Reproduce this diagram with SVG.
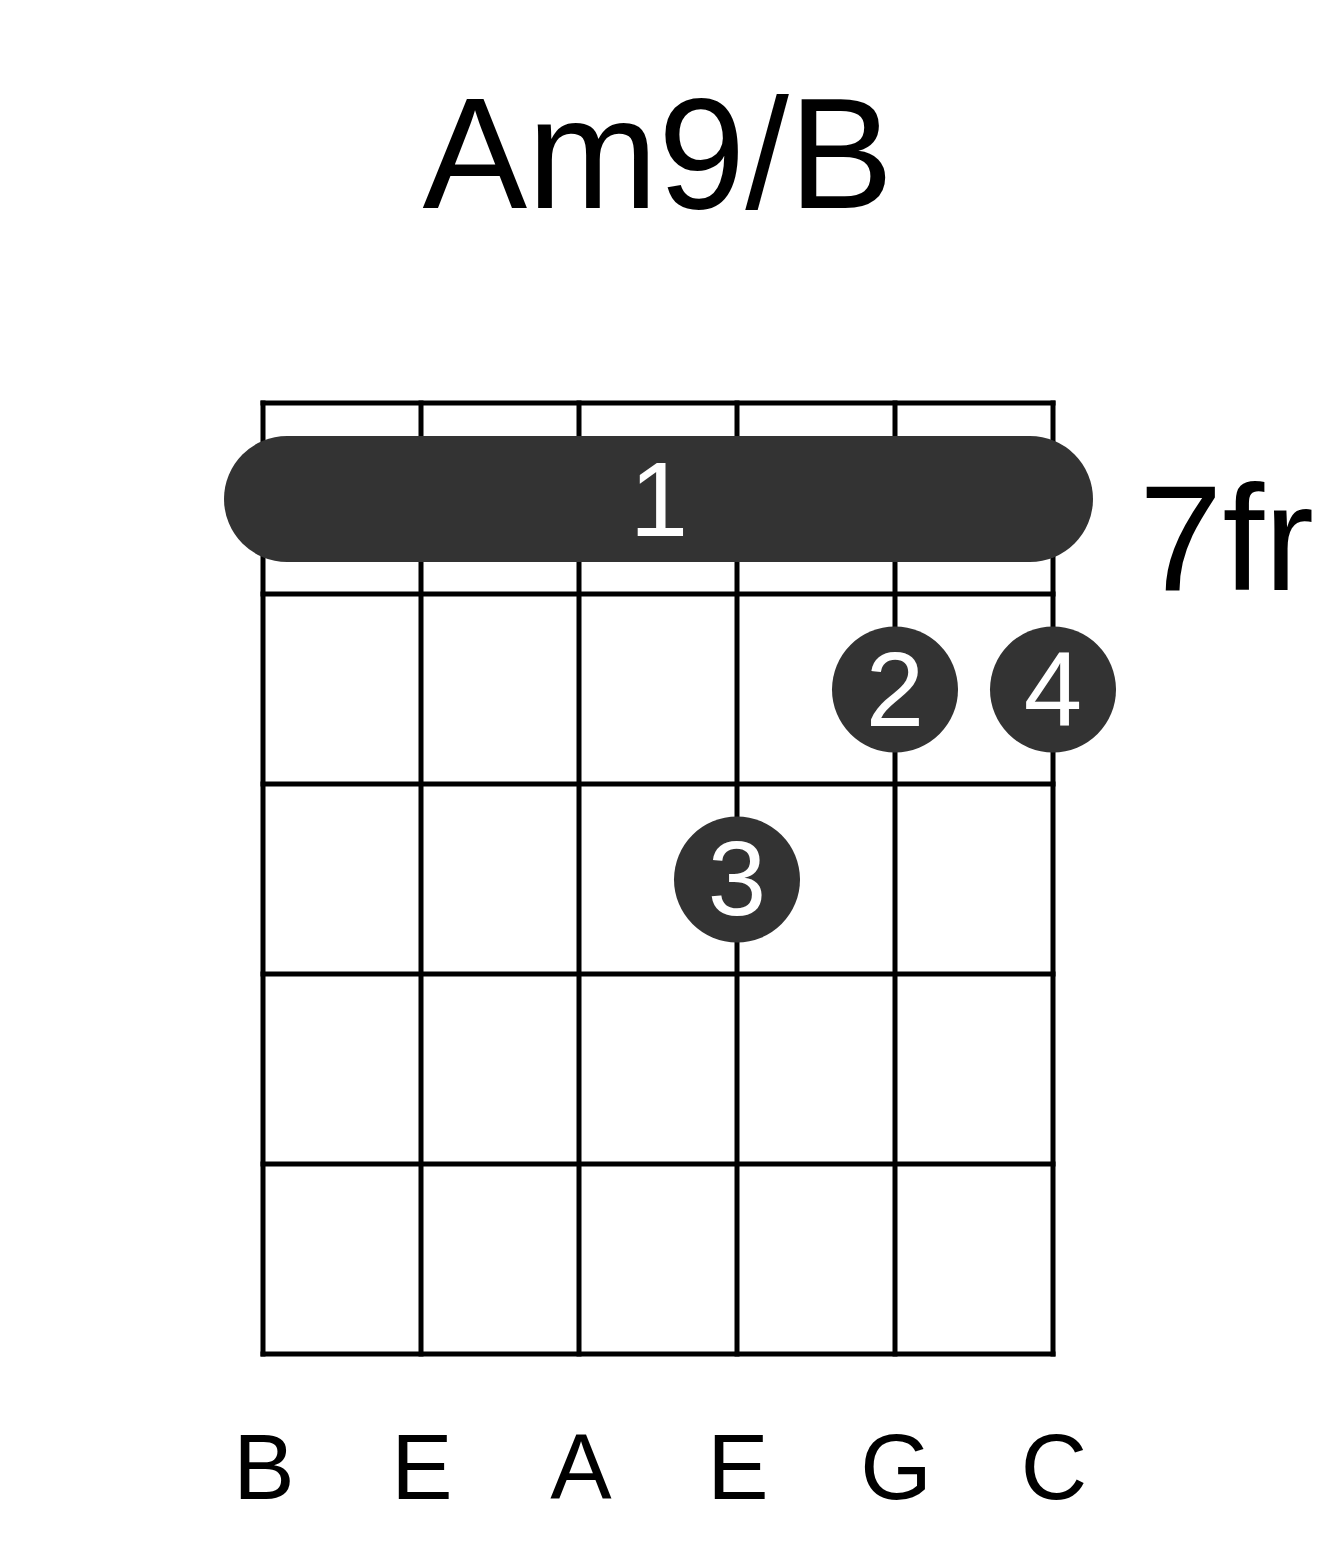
<svg xmlns="http://www.w3.org/2000/svg" width="1317" height="1551" viewBox="0 0 1317 1551">
<style>
.grid line{stroke:#000;stroke-width:5;stroke-linecap:square}
.dot{fill:#333}
.fn{font-family:"Liberation Sans",Arial,sans-serif;font-size:105px;fill:#fff;text-anchor:middle}
.lbl{font-family:"Liberation Sans",Arial,sans-serif;fill:#000;text-anchor:middle}
</style>
<rect width="1317" height="1551" fill="#fff"/>
<text id="title" class="lbl" x="658" y="208" font-size="157">Am9/B</text>
<g id="grid" class="grid">
<line x1="263" y1="403" x2="1053" y2="403"/>
<line x1="263" y1="594" x2="1053" y2="594"/>
<line x1="263" y1="784" x2="1053" y2="784"/>
<line x1="263" y1="974" x2="1053" y2="974"/>
<line x1="263" y1="1164" x2="1053" y2="1164"/>
<line x1="263" y1="1354" x2="1053" y2="1354"/>
<line x1="263" y1="403" x2="263" y2="1354"/>
<line x1="421" y1="403" x2="421" y2="1354"/>
<line x1="579" y1="403" x2="579" y2="1354"/>
<line x1="737" y1="403" x2="737" y2="1354"/>
<line x1="895" y1="403" x2="895" y2="1354"/>
<line x1="1053" y1="403" x2="1053" y2="1354"/>
</g>
<g id="barre">
<rect class="dot" x="224" y="436" width="869" height="126" rx="63" ry="63"/>
<text class="fn" x="659" y="536">1</text>
</g>
<g id="finger2">
<circle class="dot" cx="895" cy="689.5" r="63"/>
<text class="fn" x="895" y="726">2</text>
</g>
<g id="finger4">
<circle class="dot" cx="1053" cy="689.5" r="63"/>
<text class="fn" x="1053" y="726">4</text>
</g>
<g id="finger3">
<circle class="dot" cx="737" cy="879.5" r="63"/>
<text class="fn" x="737" y="915">3</text>
</g>
<text id="fret" class="lbl" x="1139" y="590" font-size="150" text-anchor="start" style="text-anchor:start">7fr</text>
<g id="strings" class="lbl" font-size="92">
<text x="264" y="1499">B</text>
<text x="422" y="1499">E</text>
<text x="581" y="1499">A</text>
<text x="738" y="1499">E</text>
<text x="896" y="1499">G</text>
<text x="1054" y="1499">C</text>
</g>
</svg>
